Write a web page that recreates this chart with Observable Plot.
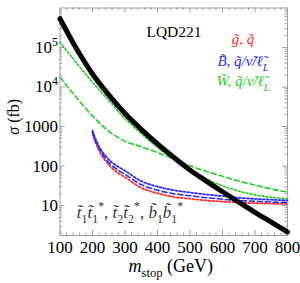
<!DOCTYPE html>
<html><head><meta charset="utf-8">
<script src="https://cdn.jsdelivr.net/npm/d3@7"></script>
<script src="https://cdn.jsdelivr.net/npm/@observablehq/plot@0.6"></script>
<style>
body{margin:0;background:#fff}
svg{display:block}
svg text { font-family: "Liberation Serif", serif !important; }
</style>
</head><body><div id="chart"></div><script>
// ---- data (m_stop in GeV, sigma in fb) ----
const massHigh = [100,150,200,250,300,350,400,450,500,550,600,650,700,750,800];
const stopPair = [537000,95500,21400,6310,2140,851,363,166,79.4,41.7,22.4,12.3,6.76,3.80,2.14];
const winoDotted = [135000,41700,13200,4570,1580,661,295,148,85,48,31.6,23.4,18.6,16.2,14.8];
const winoDashed = [17800,5500,1860,759,427,309,219,151,102,74,55,41.7,33.1,26.3,21.9];
const massLow = [200,210,220,230,240,260,280,300,350,400,450,500,550,600,650,700,750,800];
const binoDotted = [794,479,316,234,182,123,95.5,75.9,41.7,30.2,24.5,21.4,19.1,17.4,15.8,14.8,14.1,13.5];
const binoDashed = [724,427,282,204,155,102,77.6,61.7,33.9,24.5,20.0,17.8,15.8,14.5,13.5,12.9,12.3,12.0];
const gluinoDotted = [661,380,251,178,135,89.1,66.1,52.5,28.2,20.4,16.6,14.8,13.5,12.6,12.0,11.5,11.2,11.0];
const xTicks = [100,200,300,400,500,600,700,800];
const yTicks = [10,100,1000,10000,100000];
const yTickLabels = ["10","100","1000","10^{4}","10^{5}"];
const legendLabels = ["%{g̃, q̃}", "%{B̃, q̃/ν̃/ℓ̃}_{%{L}}", "%{W̃, q̃/ν̃/ℓ̃}_{%{L}}"];
const legendColors = ["#ff2a2a", "#2a2aff", "#22d022"];

const red = legendColors[0], blue = legendColors[1], green = legendColors[2];
const W = 300, H = 283, mL = 59.5, mR = 13, mT = 7.5, mB = 48;
const iW = W - mL - mR, iH = H - mT - mB;
const yDomain = [1.75, 1e6];

const rows = (ms, vs) => ms.map((m, i) => ({m, v: vs[i]}));
const xMinor = d3.range(100, 801, 20).filter(d => !xTicks.includes(d));
const yMinor = [];
for (let d = 1; d <= 1e5; d *= 10) for (let k = 2; k <= 9; k++) { const v = d * k; if (v >= yDomain[0] && v <= yDomain[1]) yMinor.push(v); }
const tc = "#a0a0a0";
const serif = "Liberation Serif";

const lineOpts = (stroke, dash, sw) => ({x: "m", y: "v", stroke, strokeWidth: sw, strokeDasharray: dash, curve: "monotone-x"});

const chart = Plot.plot({
  width: W, height: H, marginLeft: mL, marginRight: mR, marginTop: mT, marginBottom: mB,
  style: {fontFamily: serif, background: "white", color: "black"},
  x: {domain: [100, 800]},
  y: {type: "log", domain: yDomain},
  marks: [
    Plot.frame({stroke: tc}),
    Plot.tickX(xTicks, {x: d => d, insetTop: iH - 5, stroke: tc}),
    Plot.tickX(xTicks, {x: d => d, insetBottom: iH - 5, stroke: tc}),
    Plot.tickX(xMinor, {x: d => d, insetTop: iH - 2.5, stroke: tc}),
    Plot.tickX(xMinor, {x: d => d, insetBottom: iH - 2.5, stroke: tc}),
    Plot.tickY(yTicks, {y: d => d, insetRight: iW - 5, stroke: tc}),
    Plot.tickY(yTicks, {y: d => d, insetLeft: iW - 5, stroke: tc}),
    Plot.tickY(yMinor, {y: d => d, insetRight: iW - 2.5, stroke: tc}),
    Plot.tickY(yMinor, {y: d => d, insetLeft: iW - 2.5, stroke: tc}),
    Plot.axisX({ticks: xTicks, tickSize: 0, tickPadding: 5, fontSize: 17, fontFamily: serif, label: null}),
    Plot.axisY({ticks: yTicks, tickSize: 0, tickPadding: 2, fontSize: 17, fontFamily: serif, label: null,
      tickFormat: d => yTickLabels[yTicks.indexOf(d)]}),
    Plot.line(rows(massHigh, winoDashed), lineOpts(green, "5,3", 1.6)),
    Plot.line(rows(massHigh, winoDotted), lineOpts(green, "2,2", 1.6)),
    Plot.line(rows(massLow, gluinoDotted), lineOpts(red, "2,2", 1.8)),
    Plot.line(rows(massLow, binoDashed), lineOpts(blue, "5,3", 1.6)),
    Plot.line(rows(massLow, binoDotted), lineOpts(blue, "2,2", 1.8)),
    Plot.line(rows(massHigh, stopPair), {x: "m", y: "v", stroke: "black", strokeWidth: 5, curve: "monotone-x"}),
    Plot.text(["LQD221"], {frameAnchor: "top-right", dx: -113.5, dy: 17.5, textAnchor: "middle", fontSize: 15.5, fontFamily: serif, fill: "black"}),
    Plot.text([legendLabels[0]], {frameAnchor: "top-right", dx: -44.5, dy: 25.5, textAnchor: "middle", fontSize: 15, fontFamily: serif, fill: legendColors[0]}),
    Plot.text([legendLabels[1]], {frameAnchor: "top-right", dx: -44.5, dy: 47.5, textAnchor: "middle", fontSize: 15, fontFamily: serif, fill: legendColors[1]}),
    Plot.text([legendLabels[2]], {frameAnchor: "top-right", dx: -44.5, dy: 67.5, textAnchor: "middle", fontSize: 15, fontFamily: serif, fill: legendColors[2]}),
    Plot.text(["%{t̃}_{1}%{t̃}_{1}^{*}, %{t̃}_{2}%{t̃}_{2}^{*}, %{b̃}_{1}%{b̃}_{1}^{*}"], {frameAnchor: "bottom-left", dx: 70, dy: -18, textAnchor: "middle", fontSize: 17, fontFamily: serif, fill: "#333"}),
    Plot.text(["%{m}_{stop} (GeV)"], {frameAnchor: "bottom", dy: 36, dx: -3, textAnchor: "middle", fontSize: 18, fontFamily: serif, fill: "black"}),
    Plot.text(["%{σ} (fb)"], {frameAnchor: "left", dx: -46, dy: -5, rotate: -90, textAnchor: "middle", fontSize: 16, fontFamily: serif, fill: "black"})
  ]
});
document.getElementById("chart").appendChild(chart);

// rich text: _{sub} ^{sup} %{italic}
const NS = "http://www.w3.org/2000/svg";
function rich(el) {
  el.setAttribute("font-family", serif);
  const s = el.textContent;
  if (!/[_^%]\{/.test(s)) return;
  const fs = parseFloat(getComputedStyle(el).fontSize) || 16;
  el.textContent = "";
  let shift = 0;
  function add(txt, level, size, italic) {
    const t = document.createElementNS(NS, "tspan");
    t.textContent = txt;
    const dy = level - shift;
    if (dy) t.setAttribute("dy", dy);
    shift = level;
    if (size) t.setAttribute("font-size", size);
    if (italic) t.setAttribute("font-style", "italic");
    el.appendChild(t);
  }
  const re = /([_^%])\{((?:[^{}]|\{[^{}]*\})*)\}/g;
  let last = 0, m;
  while ((m = re.exec(s))) {
    if (m.index > last) add(s.slice(last, m.index), 0, null, false);
    if (m[1] === "%") {
      add(m[2], 0, null, true);
    } else {
      const lv = m[1] === "_" ? fs * 0.3 : -fs * 0.42;
      const mm = /^%\{(.*)\}$/.exec(m[2]);
      add(mm ? mm[1] : m[2], lv, fs * 0.7, !!mm);
    }
    last = re.lastIndex;
  }
  if (last < s.length) add(s.slice(last), 0, null, false);
}
chart.querySelectorAll("text").forEach(rich);
</script></body></html>
